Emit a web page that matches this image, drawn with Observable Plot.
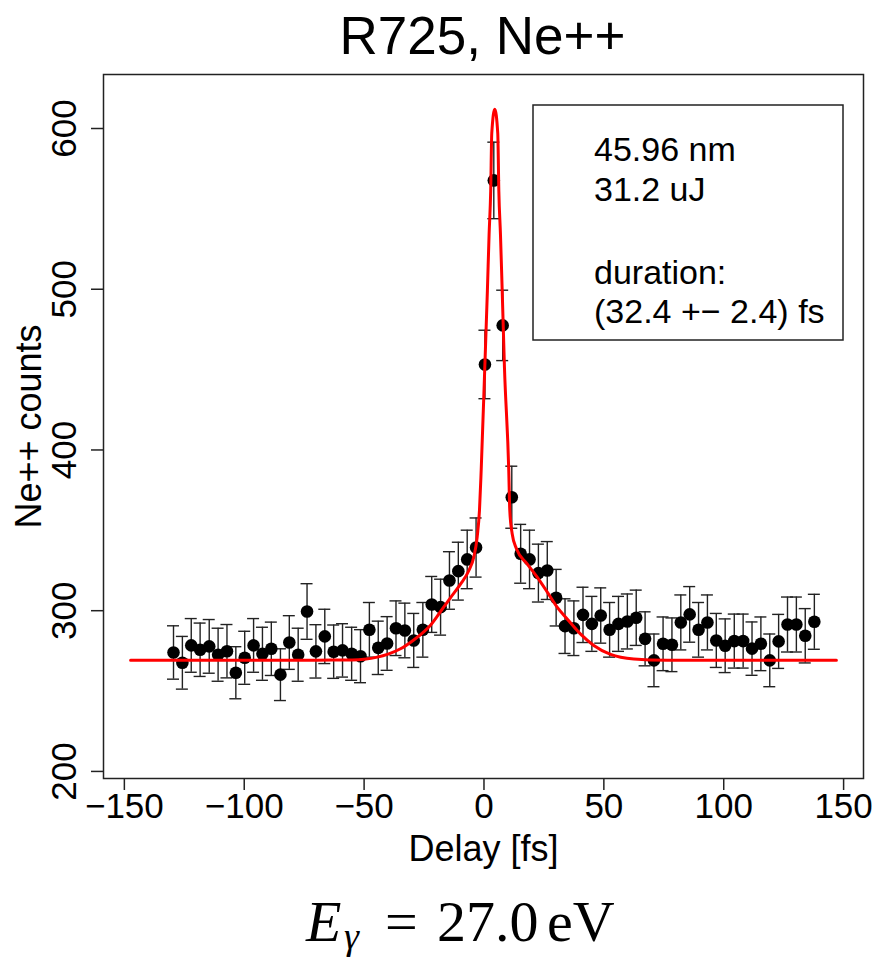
<!DOCTYPE html>
<html><head><meta charset="utf-8">
<script src="https://cdn.jsdelivr.net/npm/d3@7"></script>
<script src="https://cdn.jsdelivr.net/npm/@observablehq/plot@0.6"></script>
<style>
html,body{margin:0;padding:0;background:#fff;}
#chart{position:relative;width:878px;height:962px;}
</style></head><body><div id="chart"></div>
<script>
// ---- data ----
const delays = [-129.5,-125.8,-122.1,-118.4,-114.6,-110.9,-107.2,-103.5,-99.8,-96.1,-92.4,-88.7,-84.9,-81.2,-77.5,-73.8,-70.1,-66.4,-62.7,-59.0,-55.2,-51.5,-47.8,-44.1,-40.4,-36.7,-33.0,-29.3,-25.5,-21.8,-18.1,-14.4,-10.7,-7.0,-3.3,0.4,4.1,7.8,11.6,15.3,19.0,22.7,26.4,30.1,33.8,37.5,41.3,45.0,48.7,52.4,56.1,59.8,63.5,67.2,70.9,74.7,78.4,82.1,85.8,89.5,93.2,96.9,100.6,104.4,108.1,111.8,115.5,119.2,122.9,126.6,130.3,134.0,137.8];
const counts = [274.0,267.6,278.4,275.7,277.8,272.6,274.8,261.4,270.7,278.4,273.2,276.3,260.2,280.2,272.6,299.5,274.7,284.0,274.5,275.3,273.2,271.7,288.1,276.9,279.6,289.1,287.7,281.5,288.1,303.9,302.2,318.8,324.6,331.9,339.3,453.2,567.7,477.5,370.6,335.4,331.9,323.4,325.0,308.1,290.4,289.1,297.4,291.8,297.0,288.1,291.8,293.3,295.6,282.5,269.1,279.4,278.8,292.7,297.7,288.1,292.7,281.5,278.2,281.1,281.1,276.4,279.4,269.1,280.9,291.4,291.4,284.4,293.1];
const errors = [16.6,16.4,16.7,16.6,16.7,16.5,16.6,16.2,16.5,16.7,16.5,16.6,16.1,16.7,16.5,17.3,16.6,16.9,16.6,16.6,16.5,16.5,17.0,16.6,16.7,17.0,17.0,16.8,17.0,17.4,17.4,17.9,18.0,18.2,18.4,21.3,23.8,21.9,19.3,18.3,18.2,18.0,18.0,17.6,17.0,17.0,17.2,17.1,17.2,17.0,17.1,17.1,17.2,16.8,16.4,16.7,16.7,17.1,17.3,17.0,17.1,16.8,16.7,16.8,16.8,16.6,16.7,16.4,16.8,17.1,17.1,16.9,17.1];
const fitDelay  = [-147.4,-100,-70,-55,-50,-44.5,-40,-34.8,-29.3,-25,-22.3,-18.1,-14.0,-9.8,-6.3,-4.25,-2.84,-1.88,-1.17,0.33,1.42,2.13,2.8,3.25,4.5,5.75,6.2,6.88,7.6,8.55,10.34,10.76,11.76,13.55,18.0,22.2,26.4,30.5,34.7,40.2,45.8,52.8,62.5,76.4,100,147.0];
const fitCounts = [269.1,269.1,269.2,269.4,269.8,271.1,273.0,276.3,281.8,287.0,291.0,299.5,308.0,316.5,325.0,333.3,345.8,362.4,387.2,451,499,534,561,597,612,597,561,534,499,451,387,362.4,347.9,338.5,329.2,320.9,311.6,302.2,294.9,285.6,278.4,272.8,270.0,269.2,269.1,269.1];
const xTicks = [-150,-100,-50,0,50,100,150];
const yTicks = [200,300,400,500,600];
const titleText = "R725, Ne++";
const xLabel = "Delay [fs]";
const yLabel = "Ne++ counts";
const legendLines = ["45.96 nm","31.2 uJ","","duration:","(32.4 +\u2212 2.4) fs"];

// ---- tables built from the arrays ----
const points = delays.map((d, i) => ({delay: d, counts: counts[i], err: errors[i]}));
const fit = fitDelay.map((d, i) => ({delay: d, counts: fitCounts[i]}));
const fmt = d => d < 0 ? "\u2212" + Math.abs(d) : String(d);
const SANS = "'Liberation Sans', Arial, Helvetica, sans-serif";

const chart = Plot.plot({
  width: 878,
  height: 962,
  marginLeft: 103,
  marginRight: 15,
  marginTop: 74,
  marginBottom: 184,
  style: {fontFamily: SANS, fontSize: "35px", background: "white", color: "black"},
  x: {domain: [-158.7, 158.3]},
  y: {domain: [195.6, 633.6]},
  marks: [
    Plot.ruleX(points, {x: "delay", y1: d => d.counts - d.err, y2: d => d.counts + d.err, stroke: "#222", strokeWidth: 1.4}),
    Plot.ruleY(points, {y: d => d.counts - d.err, x1: "delay", x2: "delay", insetLeft: -6, insetRight: -6, stroke: "#222", strokeWidth: 1.4}),
    Plot.ruleY(points, {y: d => d.counts + d.err, x1: "delay", x2: "delay", insetLeft: -6, insetRight: -6, stroke: "#222", strokeWidth: 1.4}),
    Plot.dot(points, {x: "delay", y: "counts", r: 6.3, fill: "black", stroke: null}),
    Plot.line(fit, {x: "delay", y: "counts", stroke: "#ff0000", strokeWidth: 3, curve: "monotone-x"}),
    Plot.frame({stroke: "#222", strokeWidth: 1.5}),
    Plot.axisX({ticks: xTicks, tickSize: 12, tickPadding: 3, tickFormat: fmt, fontSize: 35, label: null, stroke: "#222", strokeWidth: 1.5}),
    Plot.axisY({ticks: yTicks, tickSize: 12, tickFormat: () => "", label: null, stroke: "#222", strokeWidth: 1.5}),
    Plot.text(yTicks, {y: d => d, text: d => String(d), frameAnchor: "left", rotate: -90, dx: -39, fontSize: 35, textAnchor: "middle", lineAnchor: "middle"}),
    Plot.text([yLabel], {text: d => d, frameAnchor: "left", rotate: -90, dx: -74, fontSize: 36, textAnchor: "middle", lineAnchor: "middle"}),
    Plot.text([xLabel], {text: d => d, frameAnchor: "bottom", dy: 71, fontSize: 36, textAnchor: "middle", lineAnchor: "middle"})
  ]
});

document.getElementById("chart").appendChild(chart);

// ---- annotations: title, legend box, energy label ----
const svg = d3.select(chart);
svg.append("text").attr("x", 482.5).attr("y", 54).attr("text-anchor", "middle")
  .style("font-family", SANS).style("font-size", "53px").attr("fill", "black").text(titleText);

const lg = svg.append("g").attr("text-anchor", "start");
lg.append("rect").attr("x", 533).attr("y", 105).attr("width", 310).attr("height", 235)
  .attr("fill", "white").attr("stroke", "#222").attr("stroke-width", 1.5);
const lgBase = [161, 201, 242, 284, 323];
legendLines.forEach((t, i) => {
  if (!t) return;
  lg.append("text").attr("x", 594).attr("y", lgBase[i]).attr("text-anchor", "start")
    .style("font-family", SANS).style("font-size", "34px").attr("fill", "black").text(t);
});

const SERIF = "'Liberation Serif', 'Times New Roman', Times, serif";
const eq = svg.append("text").attr("y", 941).attr("text-anchor", "start")
  .style("font-family", SERIF).style("font-size", "58px").attr("fill", "black");
eq.append("tspan").attr("x", 306).style("font-style", "italic").text("E");
eq.append("tspan").attr("x", 344).attr("dy", 8).style("font-style", "italic").style("font-size", "38px").text("\u03b3");
eq.append("tspan").attr("x", 385).attr("dy", -8).text("=");
eq.append("tspan").attr("x", 437).text("27.0");
eq.append("tspan").attr("x", 547).text("eV");
</script>
</body></html>
